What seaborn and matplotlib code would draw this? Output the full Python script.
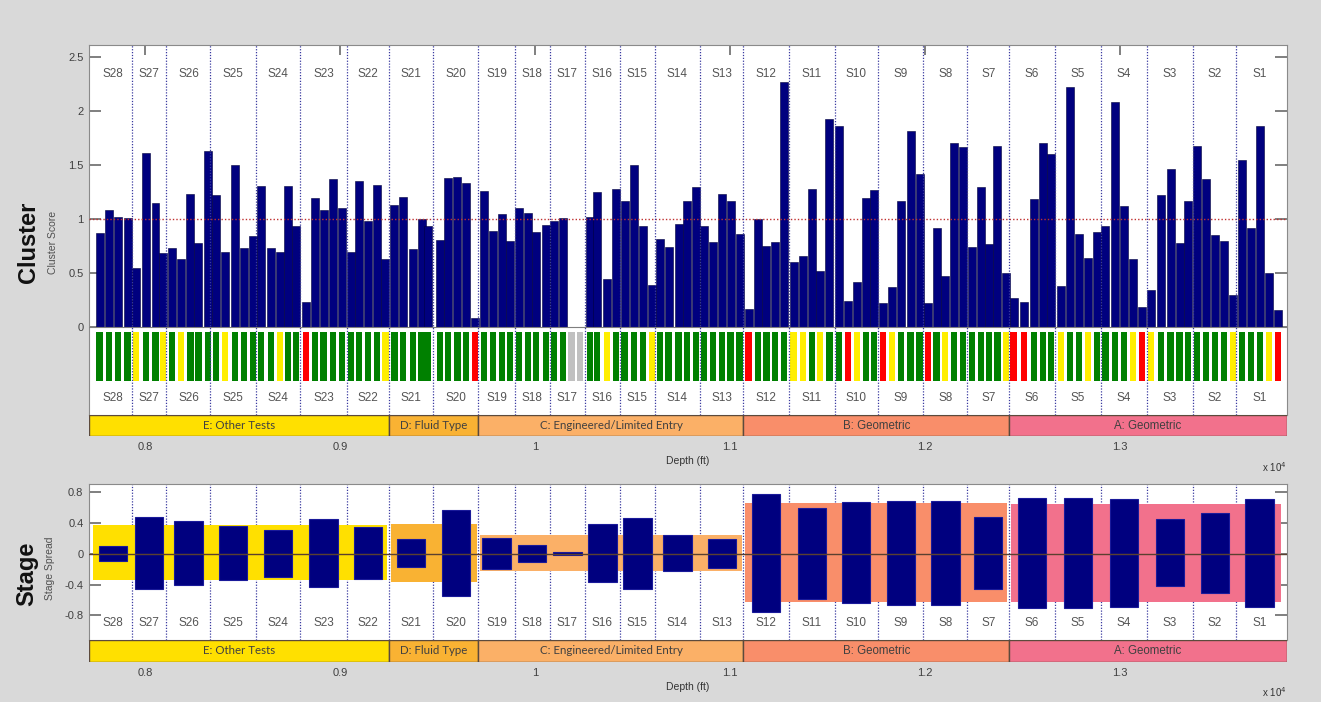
import numpy as np
import pandas as pd
import matplotlib
matplotlib.use("Agg")
import matplotlib.pyplot as plt
from matplotlib.patches import Rectangle
import seaborn as sns

sns.set_theme(style="white")
plt.rcParams["font.family"] = ["Liberation Sans", "DejaVu Sans"]

# ---------------------------------------------------------------- data
stage_names = ["S28", "S27", "S26", "S25", "S24", "S23", "S22", "S21", "S20",
               "S19", "S18", "S17", "S16", "S15", "S14", "S13", "S12", "S11",
               "S10", "S9", "S8", "S7", "S6", "S5", "S4", "S3", "S2", "S1"]
# stage limits along the well (ft)
stage_edges = [7740, 7931, 8110, 8336, 8569, 8795, 9036, 9251, 9479, 9710,
               9895, 10077, 10256, 10436, 10615, 10846, 11069, 11303, 11536,
               11759, 11992, 12217, 12431, 12667, 12903, 13137, 13373, 13597,
               13834]
stage_top = [0.10, 0.48, 0.43, 0.36, 0.31, 0.45, 0.35, 0.19, 0.57, 0.21,
             0.11, 0.02, 0.39, 0.47, 0.24, 0.20, 0.78, 0.60, 0.67, 0.69,
             0.69, 0.48, 0.73, 0.73, 0.71, 0.45, 0.53, 0.71]
stage_bottom = [-0.09, -0.46, -0.40, -0.34, -0.30, -0.43, -0.33, -0.17,
                -0.55, -0.20, -0.10, -0.01, -0.37, -0.45, -0.22, -0.18,
                -0.75, -0.58, -0.64, -0.67, -0.67, -0.46, -0.70, -0.70,
                -0.69, -0.42, -0.51, -0.69]

category_names = ["E: Other Tests", "D: Fluid Type",
                  "C: Engineered/Limited Entry", "B: Geometric", "A: Geometric"]
category_edges = [7713, 9251, 9710, 11069, 12431, 13856]
category_top = [0.37, 0.39, 0.24, 0.66, 0.65]
category_bottom = [-0.34, -0.36, -0.22, -0.63, -0.63]

cluster_depth = [
    7767, 7814, 7863, 7911, 7954, 8005, 8054, 8093, 8137, 8186, 8233, 8274,
    8322, 8363, 8409, 8460, 8506, 8554, 8596, 8648, 8693, 8735, 8773, 8825,
    8873, 8916, 8963,
    9011, 9056, 9096, 9142, 9190, 9233, 9279, 9325, 9373, 9418, 9453, 9511,
    9555, 9602, 9645, 9691, 9737, 9785, 9829, 9873, 9917, 9963, 10004, 10055,
    10099, 10142,
    10187, 10231,
    10283, 10319, 10369, 10415, 10459, 10508, 10553, 10598, 10641, 10685,
    10736, 10779, 10824, 10867, 10914, 10959, 11003, 11049, 11095, 11142,
    11187, 11231, 11278, 11326, 11373, 11419,
    11461, 11510, 11557, 11604, 11650, 11696, 11737, 11783, 11829, 11878,
    11926, 11972, 12015, 12059, 12101, 12147, 12195, 12240, 12285, 12327,
    12371, 12417, 12454, 12509, 12559, 12603, 12646,
    12696, 12745, 12791, 12836, 12881, 12925, 12973, 13020, 13068, 13113,
    13160, 13211, 13259, 13305, 13350, 13395, 13442, 13488, 13532, 13578,
    13624, 13672, 13719, 13763, 13809]
cluster_score = [
    0.87, 1.09, 1.02, 1.01, 0.55, 1.61, 1.15, 0.69, 0.73, 0.63, 1.23, 0.78,
    1.63, 1.22, 0.70, 1.50, 0.73, 0.84, 1.31, 0.73, 0.70, 1.31, 0.94, 0.23,
    1.20, 1.09, 1.37,
    1.10, 0.70, 1.35, 0.98, 1.32, 0.63, 1.13, 1.21, 0.72, 1.00, 0.94, 0.81,
    1.38, 1.39, 1.34, 0.08, 1.26, 0.89, 1.05, 0.80, 1.10, 1.06, 0.88, 0.95,
    0.98, 1.01,
    0.00, 0.00,
    1.02, 1.25, 0.45, 1.28, 1.17, 1.50, 0.94, 0.39, 0.82, 0.74, 0.96, 1.17,
    1.30, 0.94, 0.79, 1.23, 1.17, 0.86, 0.17, 1.00, 0.75, 0.79, 2.27, 0.60,
    0.66, 1.28,
    0.52, 1.93, 1.86, 0.24, 0.42, 1.20, 1.27, 0.22, 0.37, 1.17, 1.82, 1.42,
    0.22, 0.92, 0.47, 1.71, 1.67, 0.74, 1.30, 0.77, 1.68, 0.50, 0.27, 0.23,
    1.19, 1.71, 1.60,
    0.38, 2.23, 0.86, 0.64, 0.88, 0.94, 2.09, 1.12, 0.63, 0.19, 0.34, 1.22,
    1.47, 0.78, 1.17, 1.68, 1.37, 0.85, 0.80, 0.30, 1.55, 0.92, 1.86, 0.50,
    0.16]
# cluster status: G good, Y marginal, R poor, N no data
cluster_flag = list(
    "GGGGYGGYGYGGGGYGGGGGYGGRGGG"
    "GGGGGYGGGGGGGGGRGGGGGGGGGG"
    "NN"
    "GGYGGGGYGGGGGGGGGGRGGGGYYG"
    "YGGRYGGRYGGGRGYGGGGGGYRRGGG"
    "YGGYGGGGYRYGGGGGGGGYGGGYR")

x_tick_depths = [8000, 9000, 10000, 11000, 12000, 13000]
x_tick_labels = ["0.8", "0.9", "1", "1.1", "1.2", "1.3"]
cluster_yticks = [0, 0.5, 1, 1.5, 2, 2.5]
cluster_yticklabels = ["0", "0.5", "1", "1.5", "2", "2.5"]
stage_yticks = [-0.8, -0.4, 0, 0.4, 0.8]
stage_yticklabels = ["-0.8", "-0.4", "0", "0.4", "0.8"]

# ---------------------------------------------------------------- style
FIG_BG = "#d9d9d9"
NAVY = "#00007f"
FLAG_COLORS = {"G": "#008000", "Y": "#ffee00", "R": "#ff0000", "N": "#c0c0c0"}
CATEGORY_COLORS = ["#ffe000", "#f9b233", "#fbb067", "#f98e6a", "#f2718c"]
CATEGORY_FONTS = [["Lato", "DejaVu Sans"], ["Lato", "DejaVu Sans"],
                  ["Lato", "DejaVu Sans"], ["Liberation Sans", "DejaVu Sans"],
                  ["Liberation Sans", "DejaVu Sans"]]
TEXT_GREY = "#404040"
LABEL_GREY = "#555555"
SPINE_GREY = "#8a8a8a"
DOT_BLUE = "#3a3aa0"
STRIP_HIGH, STRIP_LOW = -0.05, -0.50
CLUSTER_BAR_FT = 41
STRIP_BAR_FT = 32
STAGE_BAR_FT = 145
BG_INSET = 9

W, H = 1321, 702
LEFT, RIGHT = 89, 1287
XLIM = (category_edges[0], category_edges[-1])
inner_edges = stage_edges[1:-1]
stage_centers = [(a + b) / 2 for a, b in zip(stage_edges[:-1], stage_edges[1:])]


def fig_rect(top_px, bottom_px):
    return [LEFT / W, 1 - bottom_px / H, (RIGHT - LEFT) / W,
            (bottom_px - top_px) / H]


def style_frame(ax):
    for s in ax.spines.values():
        s.set_visible(True)
        s.set_color(SPINE_GREY)
        s.set_linewidth(0.8)


def category_band(top_px, bottom_px, offset_y_px):
    axb = fig.add_axes(fig_rect(top_px, bottom_px))
    axb.set_xlim(XLIM)
    axb.set_ylim(0, 1)
    for name, a, b, col, fam in zip(category_names, category_edges[:-1],
                                    category_edges[1:], CATEGORY_COLORS,
                                    CATEGORY_FONTS):
        axb.add_patch(Rectangle((a, 0), b - a, 1, facecolor=col,
                                edgecolor="#5c4a3c", linewidth=1.0))
        axb.text((a + b) / 2, 0.5, name, ha="center", va="center",
                 fontsize=8.3, color=TEXT_GREY, family=fam)
    for s in axb.spines.values():
        s.set_visible(False)
    axb.set_yticks([])
    axb.set_xticks(x_tick_depths)
    axb.set_xticklabels(x_tick_labels)
    axb.tick_params(axis="x", length=0, pad=4, labelsize=8,
                    labelcolor=TEXT_GREY, bottom=True)
    axb.set_xlabel("Depth (ft)", fontsize=7.5, color="#333333", labelpad=3)
    fig.text(RIGHT / W, 1 - offset_y_px / H, r"x 10$^4$", ha="right",
             va="center", fontsize=7, color="#333333")
    return axb


fig = plt.figure(figsize=(W / 100, H / 100), dpi=100, facecolor=FIG_BG)

# ---------------------------------------------------------------- cluster panel
axc = fig.add_axes(fig_rect(45, 415))
axc.set_facecolor("white")
clusters = pd.DataFrame({"depth": cluster_depth, "score": cluster_score,
                         "flag": cluster_flag})
clusters["strip"] = STRIP_LOW - STRIP_HIGH
gap = np.diff(np.sort(clusters["depth"].unique())).min()

sns.barplot(data=clusters, x="depth", y="score", native_scale=True,
            width=CLUSTER_BAR_FT / gap, color=NAVY, saturation=1,
            edgecolor="#00003c", linewidth=0.4, errorbar=None, ax=axc,
            zorder=2)
sns.barplot(data=clusters, x="depth", y="strip", hue="flag",
            palette=FLAG_COLORS, native_scale=True, dodge=False,
            width=STRIP_BAR_FT / gap, saturation=1, bottom=STRIP_HIGH,
            linewidth=0, errorbar=None, legend=False, ax=axc, zorder=2)

axc.axhline(0, color="#7f7f7f", lw=0.8, zorder=3)
axc.axhline(1, color="#c03030", lw=1.0, ls=(0, (1, 1.5)), zorder=4)
for e in inner_edges:
    axc.axvline(e, color=DOT_BLUE, lw=0.9, ls=(0, (1, 1.3)), zorder=4)
for name, c in zip(stage_names, stage_centers):
    axc.text(c, 2.35, name, ha="center", va="center", fontsize=8.5,
             color=LABEL_GREY)
    axc.text(c, -0.66, name, ha="center", va="center", fontsize=8.5,
             color=LABEL_GREY)

axc.set_xlim(XLIM)
axc.set_ylim(-0.815, 2.615)
axc.set_yticks(cluster_yticks)
axc.set_yticklabels(cluster_yticklabels)
axc.set_xticks(x_tick_depths)
axc.tick_params(axis="x", direction="in", length=7, top=True, bottom=False,
                labeltop=False, labelbottom=False, color="#707070")
axc.tick_params(axis="y", direction="in", length=8.5, left=True, right=True,
                labelsize=8, labelcolor=TEXT_GREY, color="#707070", pad=4)
axc.set_xlabel("")
axc.set_ylabel("")
style_frame(axc)

category_band(415, 436, 467)

# ---------------------------------------------------------------- stage panel
axs = fig.add_axes(fig_rect(484, 640))
axs.set_facecolor("white")
for e in inner_edges:
    axs.axvline(e, color=DOT_BLUE, lw=0.9, ls=(0, (1, 1.3)), zorder=1)
for a, b, t, bt, col in zip(category_edges[:-1], category_edges[1:],
                            category_top, category_bottom, CATEGORY_COLORS):
    lo = max(a, stage_edges[0] - 15) + BG_INSET
    hi = min(b, stage_edges[-1]) - BG_INSET
    axs.add_patch(Rectangle((lo, bt), hi - lo, t - bt, facecolor=col,
                            linewidth=0, zorder=1.5))

stages = pd.DataFrame({"center": stage_centers, "top": stage_top,
                       "bottom": stage_bottom})
sgap = np.diff(np.sort(stages["center"])).min()
for col in ["top", "bottom"]:
    sns.barplot(data=stages, x="center", y=col, native_scale=True,
                width=STAGE_BAR_FT / sgap, color=NAVY, saturation=1,
                edgecolor="#1a1a9a", linewidth=0.8, errorbar=None, ax=axs,
                zorder=3)
axs.axhline(0, color="#5a4030", lw=1.0, zorder=4)
for name, c in zip(stage_names, stage_centers):
    axs.text(c, -0.90, name, ha="center", va="center", fontsize=8.5,
             color=LABEL_GREY)

axs.set_xlim(XLIM)
axs.set_ylim(-1.12, 0.91)
axs.set_yticks(stage_yticks)
axs.set_yticklabels(stage_yticklabels)
axs.set_xticks([])
axs.tick_params(axis="y", direction="in", length=8.5, left=True, right=True,
                labelsize=8, labelcolor=TEXT_GREY, color="#707070", pad=4)
axs.set_xlabel("")
axs.set_ylabel("")
style_frame(axs)

category_band(640, 662, 692)

# ---------------------------------------------------------------- panel titles
fig.text(28 / W, 1 - 242 / H, "Cluster", rotation=90, fontsize=17,
         fontweight="bold", ha="center", va="center", color="#111111")
fig.text(53 / W, 1 - 242 / H, "Cluster Score", rotation=90, fontsize=7.5,
         ha="center", va="center", color="#505050")
fig.text(27 / W, 1 - 574 / H, "Stage", rotation=90, fontsize=17,
         fontweight="bold", ha="center", va="center", color="#111111")
fig.text(50 / W, 1 - 568 / H, "Stage Spread", rotation=90, fontsize=7.5,
         ha="center", va="center", color="#505050")

fig.savefig("out.png", dpi=100, facecolor=FIG_BG)
